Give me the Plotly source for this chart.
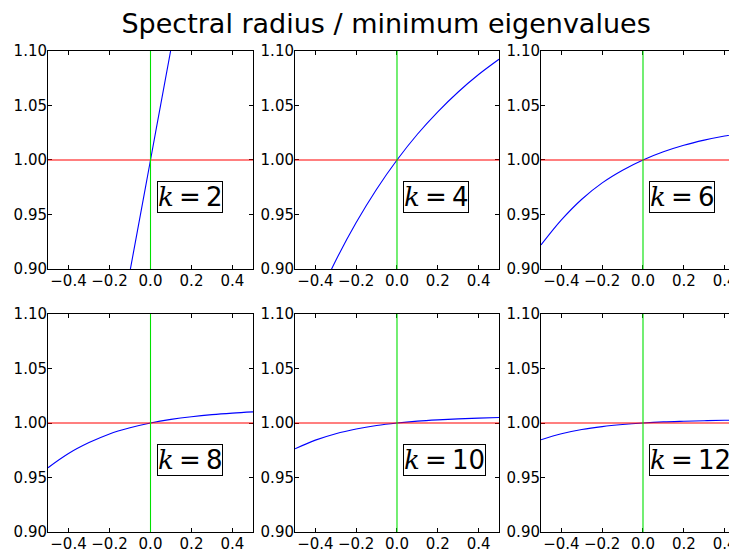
import plotly.graph_objects as go
from plotly.subplots import make_subplots

# values (x = parameter, y = ratio)
k_labels = [2, 4, 6, 8, 10, 12]

x_k2 = [-0.1, -0.05, 0.0, 0.05, 0.1]
y_k2 = [0.898, 0.949, 1.0, 1.051, 1.102]

x_k4 = [-0.4, -0.3, -0.2, -0.1, 0.0, 0.1, 0.2, 0.3, 0.4, 0.5]
y_k4 = [0.868, 0.9078, 0.9426, 0.9732, 1.0, 1.0236, 1.0442, 1.0624, 1.0784, 1.0924]

x_grid = [-0.5, -0.4, -0.3, -0.2, -0.1, 0.0, 0.1, 0.2, 0.3, 0.4, 0.5]
y_k6 = [0.922, 0.945, 0.964, 0.979, 0.9906, 1.0, 1.0075, 1.0135, 1.0182, 1.022, 1.025]
y_k8 = [0.959, 0.972, 0.982, 0.990, 0.9956, 1.0, 1.0033, 1.0058, 1.0077, 1.0091, 1.0102]
y_k10 = [0.9763, 0.9843, 0.9902, 0.9945, 0.9977, 1.0, 1.0017, 1.0029, 1.0038, 1.0045, 1.005]
y_k12 = [0.9846, 0.9901, 0.9940, 0.9967, 0.9986, 1.0, 1.0010, 1.0016, 1.0021, 1.0025, 1.0027]

series_x = [x_k2, x_k4, x_grid, x_grid, x_grid, x_grid]
series_y = [y_k2, y_k4, y_k6, y_k8, y_k10, y_k12]

ref_y = 1.0
ref_x = 0.0
x_ticks = [-0.4, -0.2, 0.0, 0.2, 0.4]
y_ticks = [0.90, 0.95, 1.00, 1.05, 1.10]

fig = make_subplots(rows=2, cols=3)

for i, k in enumerate(k_labels):
    row, col = i // 3 + 1, i % 3 + 1
    fig.add_trace(
        go.Scatter(x=series_x[i], y=series_y[i], mode="lines",
                   line=dict(color="#0000ff", width=1.1, shape="spline"),
                   showlegend=False),
        row=row, col=col,
    )
    fig.add_hline(y=ref_y, line=dict(color="#ff0000", width=1.1), row=row, col=col)
    fig.add_vline(x=ref_x, line=dict(color="#00e000", width=1.1), row=row, col=col)
    n = "" if i == 0 else str(i + 1)
    fig.add_annotation(
        x=0.03, y=0.966, xref="x" + n, yref="y" + n,
        xanchor="left", yanchor="middle", showarrow=False,
        text="<span style='font-family:DejaVu Serif'><i>k</i></span>\u2009=\u2009" + str(k),
        font=dict(size=26, color="black", family="DejaVu Sans"),
        bordercolor="black", borderwidth=1, borderpad=0, bgcolor="white",
    )

# panel placement (the page body adds an 8px offset; right column runs off the edge)
col_domains = [[0.0543, 0.3324], [0.3894, 0.6662], [0.7232, 1.0]]
row_domains = [[0.5306, 0.9227], [0.0576, 0.4496]]

for i in range(6):
    row, col = i // 3, i % 3
    n = "" if i == 0 else str(i + 1)
    fig.layout["xaxis" + n].update(
        domain=col_domains[col], range=[-0.5, 0.5], automargin=False,
        tickvals=x_ticks, tickformat=".1f", ticklabelstandoff=-2,
        showline=True, mirror="ticks", linecolor="black", linewidth=1,
        ticks="inside", ticklen=4, tickcolor="black",
        showgrid=False, zeroline=False,
    )
    fig.layout["yaxis" + n].update(
        domain=row_domains[row], range=[0.9, 1.1], automargin=False,
        tickvals=y_ticks, tickformat=".2f", ticklabelstandoff=-3,
        showline=True, mirror="ticks", linecolor="black", linewidth=1,
        ticks="inside", ticklen=4, tickcolor="black",
        showgrid=False, zeroline=False,
    )

fig.update_layout(
    width=737, height=556,
    margin=dict(l=0, r=0, t=0, b=0),
    plot_bgcolor="white", paper_bgcolor="white",
    font=dict(family="DejaVu Sans", size=15, color="black"),
    title=dict(text="Spectral radius / minimum eigenvalues",
               x=0.513, xanchor="center", y=0.972, yanchor="middle",
               font=dict(size=27)),
)

fig.write_html("out.html")
